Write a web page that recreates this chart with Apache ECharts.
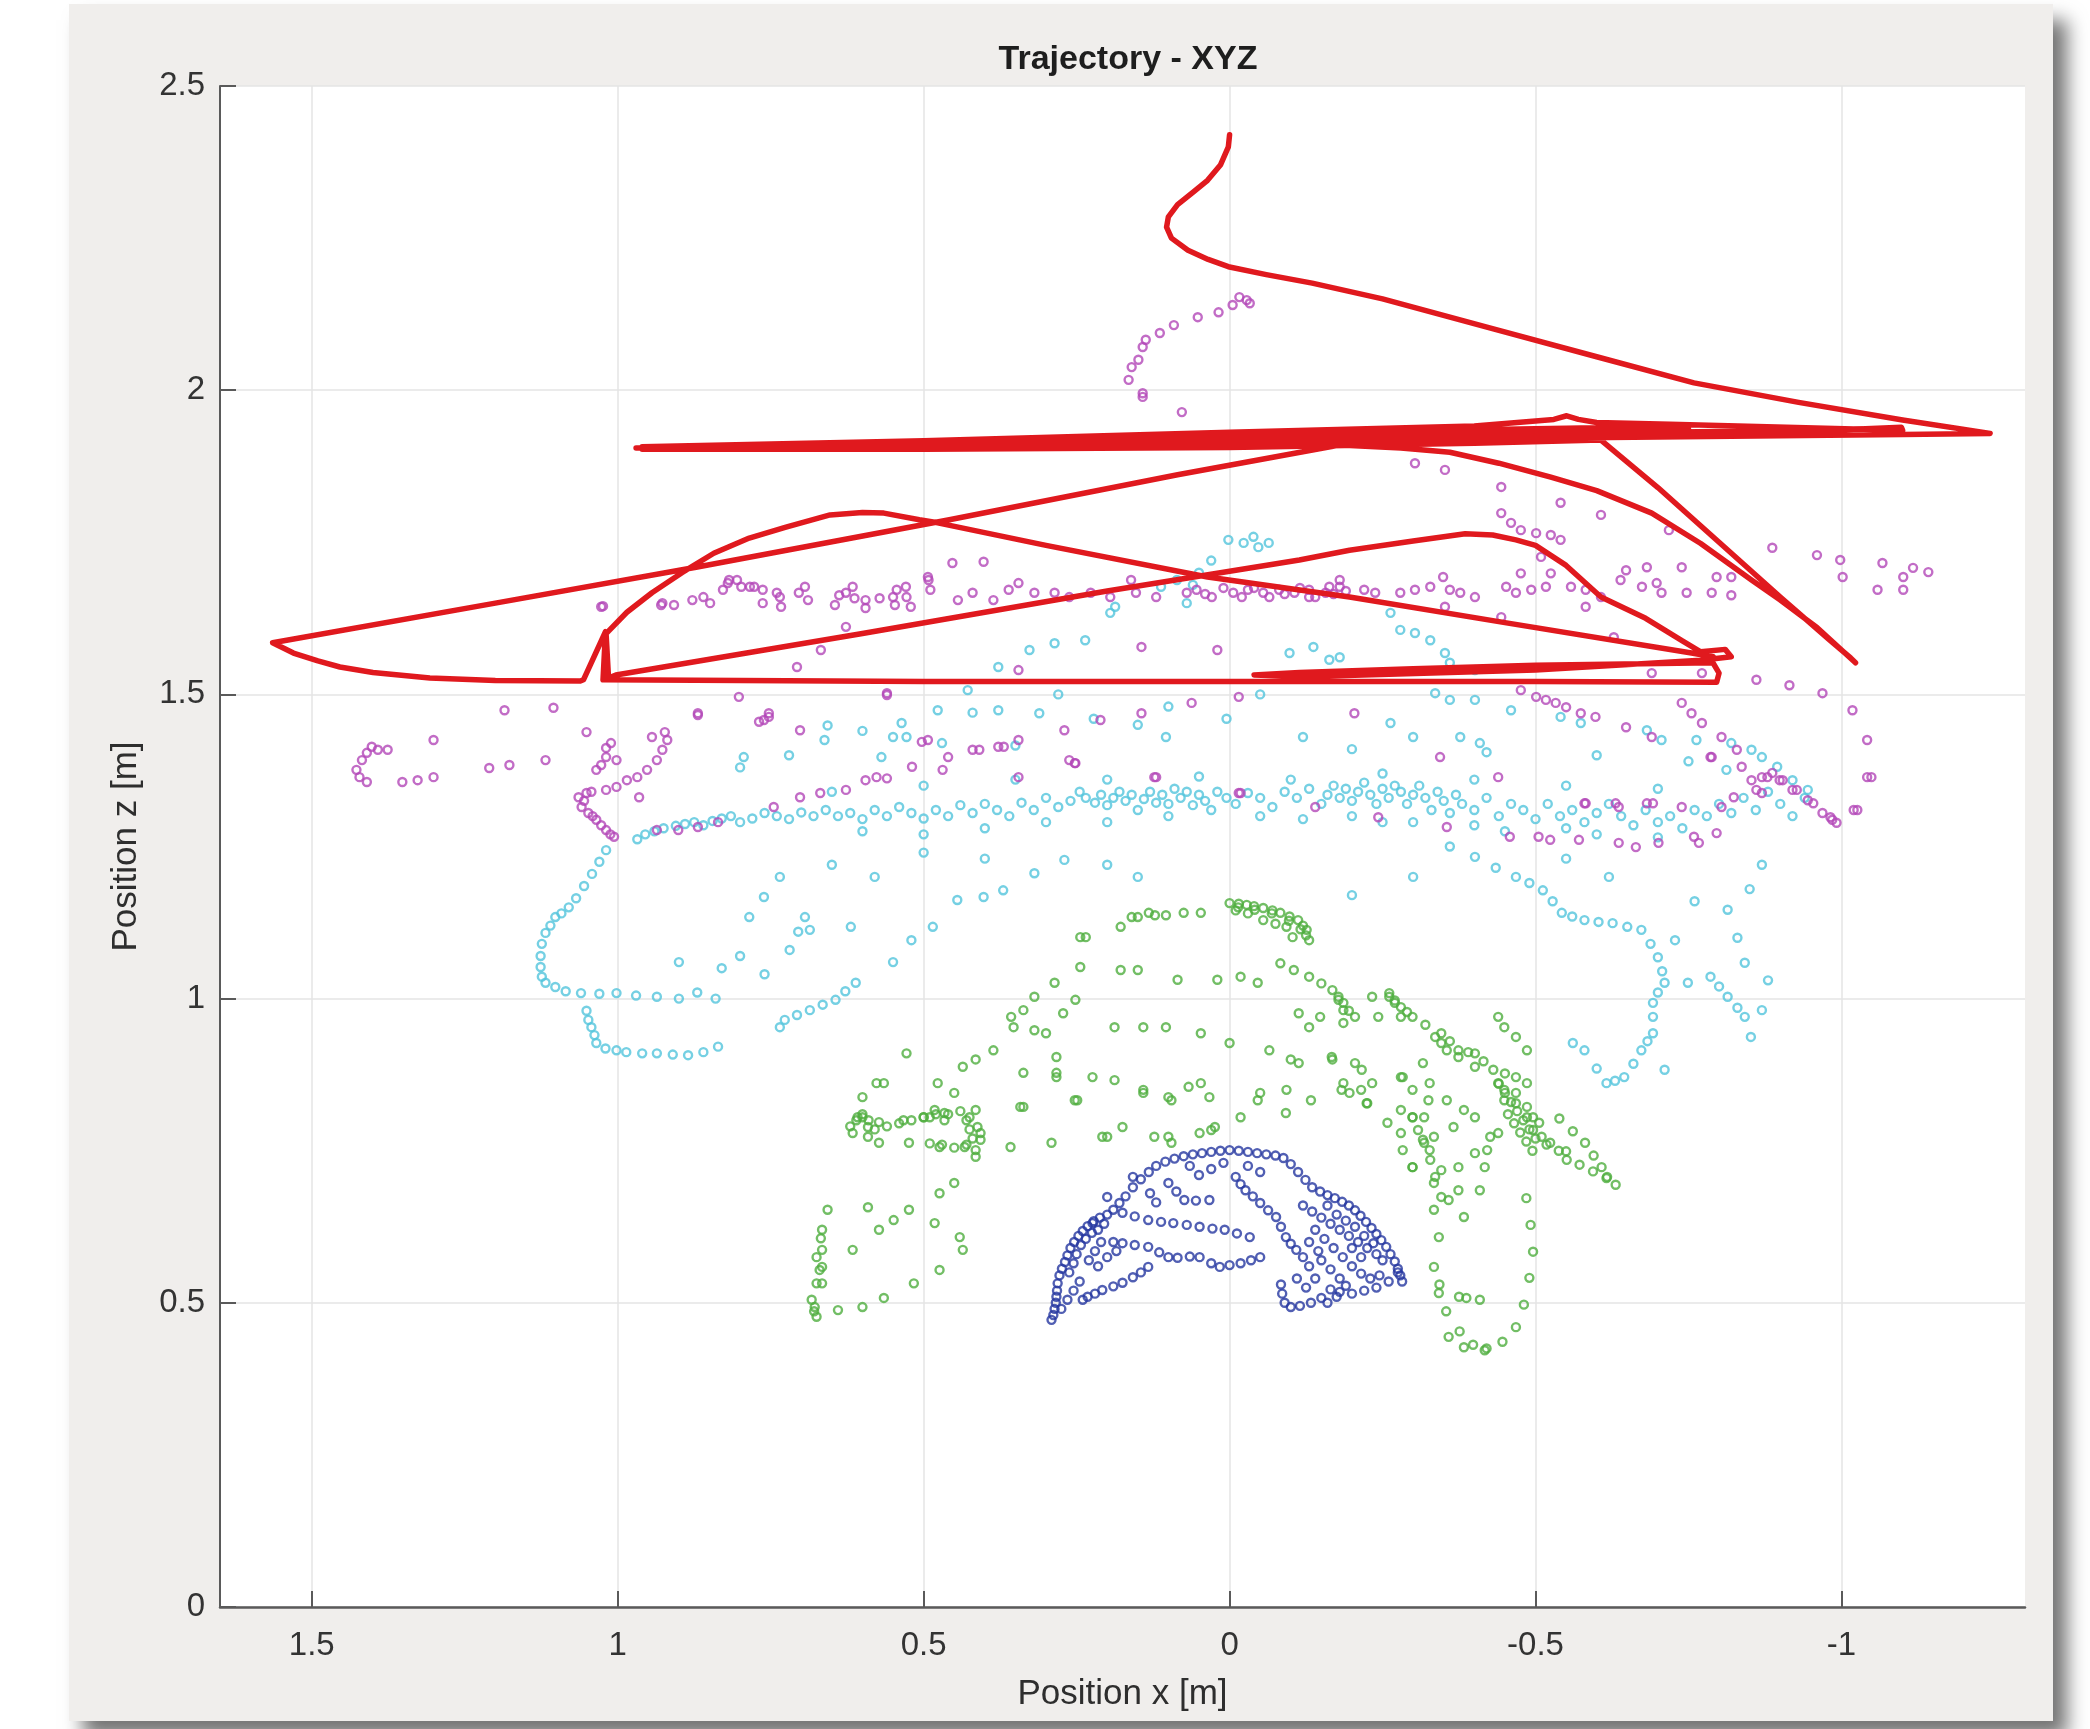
<!DOCTYPE html>
<html><head><meta charset="utf-8">
<script src="https://cdn.jsdelivr.net/npm/echarts@6/dist/echarts.min.js"></script>
<style>html,body{margin:0;padding:0;background:#fff}#c{width:2090px;height:1729px}</style>
</head><body><div id="c"></div>
<script>
const titleText = 'Trajectory - XYZ';
const xName = 'Position x [m]';
const yName = 'Position z [m]';
const xTicks = [1.5, 1, 0.5, 0, -0.5, -1];
const yTicks = [0, 0.5, 1, 1.5, 2, 2.5];
const xRange = [-1.3, 1.65];
const yRange = [0, 2.5];

// red trajectory, pieces in drawing order
const redStart = [[0.0,2.42],[0.002,2.40],[0.015,2.37],[0.036,2.345],[0.06,2.325],[0.085,2.305],[0.1,2.285],[0.103,2.268],[0.095,2.25],[0.068,2.23],[0.035,2.215],[0.002,2.203],[-0.06,2.19],[-0.135,2.176],[-0.25,2.15],[-0.419,2.104],[-0.6,2.055],[-0.759,2.012],[-0.93,1.98],[-1.1,1.951],[-1.243,1.929]];
const redBand = [[-1.1,1.927],[-0.5,1.921],[0.0,1.915],[0.5,1.909],[0.97,1.905],
  [0.5,1.912],[0.0,1.92],[-0.5,1.928],[-1.0,1.935],[-1.098,1.939],[-1.1,1.934],
  [-0.72,1.944],[-0.6,1.947],[-0.57,1.952],[-0.551,1.958],[-0.53,1.952],[-0.4,1.941],[0.0,1.931],[0.5,1.917],[0.96,1.907],
  [0.5,1.914],[0.0,1.926],[-0.4,1.935],[-0.7,1.94],[-0.75,1.936],[-0.4,1.928],[0.0,1.918],[0.5,1.907],[0.96,1.903],
  [0.5,1.903],[0.0,1.906],[-0.4,1.913],[-0.607,1.918]];
const redRightV = [[-0.7,1.84],[-0.8,1.75],[-0.9,1.66],[-0.98,1.59],[-1.015,1.56],[-1.023,1.552],
  [-0.96,1.61],[-0.9,1.655],[-0.853,1.688],[-0.77,1.748],[-0.69,1.798],[-0.6,1.835],[-0.525,1.857],[-0.44,1.88],[-0.36,1.898],[-0.28,1.905],[-0.18,1.91]];
const redLeftWedge = [[0.085,1.861],[0.458,1.787],[0.872,1.709],[1.2,1.65],[1.564,1.585],
  [1.53,1.568],[1.49,1.555],[1.454,1.545],[1.4,1.536],[1.307,1.527],[1.2,1.523],[1.061,1.522],
  [1.056,1.524],[1.02,1.603],[1.024,1.524],
  [0.5,1.521],[0.0,1.521],[-0.5,1.521],[-0.796,1.52],[-0.8,1.535],[-0.79,1.552]];
const redLower = [[-0.5,1.548],[-0.3,1.542],[-0.114,1.536],[-0.04,1.532],[-0.12,1.529],[-0.5,1.54],[-0.77,1.556],
  [-0.82,1.562],[-0.81,1.574],[-0.77,1.57],
  [-0.74,1.588],[-0.68,1.625],[-0.607,1.66],[-0.55,1.712],[-0.5,1.745],[-0.468,1.754],[-0.43,1.762],[-0.385,1.764],[-0.3,1.752],[-0.196,1.737],[-0.114,1.721],[0.2,1.67],[0.6,1.6],[1.003,1.532],[1.015,1.527],
  [1.019,1.6],[0.985,1.635],[0.944,1.667],[0.895,1.70],[0.843,1.732],[0.785,1.757],[0.725,1.775],[0.653,1.795],[0.6,1.799],[0.565,1.798],[0.507,1.787],[0.477,1.782],[0.3,1.745],[0.036,1.693],[-0.196,1.66],[-0.45,1.618],[-0.755,1.568],[-0.79,1.562]];

const magentaPts = [
[0.142,1.989],[0.142,1.995],[0.165,2.017],[0.16,2.038],[0.149,2.05],[0.142,2.071],[0.137,2.083],[0.114,2.094],[0.091,2.107],[0.052,2.12],[0.018,2.128],[-0.005,2.14],[-0.016,2.153],[-0.028,2.148],[-0.033,2.143],[0.078,1.964],
[1.027,1.644],[1.024,1.645],[0.929,1.647],[0.927,1.65],[0.908,1.647],[0.878,1.655],[0.86,1.66],[0.849,1.65],[0.828,1.672],[0.82,1.683],[0.818,1.688],[0.805,1.688],[0.798,1.677],[0.784,1.677],[0.777,1.677],[0.763,1.672],[0.763,1.65],[0.74,1.667],[0.735,1.66],[0.733,1.644],[0.704,1.667],[0.694,1.677],[0.689,1.655],[0.645,1.647],[0.638,1.663],[0.627,1.667],[0.616,1.677],[0.613,1.658],[0.595,1.642],[0.595,1.655],[0.572,1.658],[0.55,1.66],[0.547,1.647],[0.544,1.672],[0.529,1.677],[0.528,1.66],[0.521,1.644],[0.493,1.693],[0.492,1.688],[0.489,1.672],[0.453,1.716],[0.444,1.655],[0.42,1.667],[0.402,1.718],[0.386,1.655],[0.361,1.672],[0.345,1.683],[0.319,1.667],[0.286,1.667],[0.262,1.66],[0.227,1.667],[0.195,1.66],[0.161,1.688],[0.153,1.667],[0.12,1.66],[0.07,1.667],[0.054,1.672],[0.029,1.66],[-0.006,1.667],[-0.03,1.672],[-0.055,1.667],[-0.081,1.672],[-0.106,1.667],[-0.13,1.672],[-0.157,1.667],[-0.18,1.677],
[-0.02,1.66],[-0.04,1.675],[-0.065,1.66],[-0.09,1.665],[-0.115,1.675],[-0.14,1.66],[-0.17,1.665],[-0.19,1.67],[0.01,1.675],[0.04,1.665],
[-0.13,1.66],[-0.163,1.677],[-0.18,1.688],[-0.22,1.672],[-0.238,1.667],[-0.279,1.667],[-0.303,1.672],[-0.328,1.677],[-0.349,1.693],[-0.36,1.672],[-0.377,1.667],[-0.401,1.66],[-0.452,1.677],[-0.468,1.667],[-0.493,1.672],[-0.517,1.677],[-0.476,1.699],[-0.525,1.699],[-0.558,1.677],[-0.582,1.672],[-0.607,1.66],[-0.639,1.688],[-0.674,1.677],[-0.698,1.683],[-0.706,1.667],[-0.747,1.667],[-0.788,1.667],[-0.82,1.663],[-0.796,1.693],[-0.82,1.693],[-0.887,1.741],[-0.96,1.729],[-0.998,1.721],[-1.002,1.693],[-1.067,1.716],[-1.101,1.693],[-1.117,1.708],[-1.142,1.701],[-1.059,1.672],[-1.101,1.672],[-0.648,1.704],[-0.682,1.709],[-0.739,1.709],[-0.582,1.644],[-0.352,1.644],[-0.444,1.627],[-0.628,1.594],
[-0.303,1.88],[-0.352,1.869],[-0.444,1.841],[-0.444,1.798],[-0.46,1.782],[-0.476,1.77],[-0.501,1.765],[-0.525,1.762],[-0.541,1.754],[-0.541,1.815],[-0.607,1.795],[-0.718,1.77],[-0.509,1.726],
[0.627,1.611],[0.668,1.573],[0.707,1.545],[0.144,1.578],[0.02,1.573],[0.802,1.496],[0.56,1.502],[-0.015,1.496],[0.345,1.54],[0.144,1.469],[0.211,1.458],[0.062,1.486],[0.869,1.469],[0.753,1.469],[0.761,1.458],[0.702,1.441],[0.493,1.425],[0.46,1.397],[0.42,1.409],[0.378,1.414],[0.345,1.425],[0.262,1.392],[0.12,1.364],[-0.015,1.338],[0.577,1.364],[0.595,1.359],[0.627,1.343],[0.669,1.338],[0.702,1.331],[0.745,1.315],
[-0.476,1.507],[-0.501,1.496],[-0.517,1.491],[-0.533,1.486],[-0.55,1.479],[-0.574,1.469],[-0.598,1.463],[-0.648,1.446],[-0.69,1.43],[-0.739,1.486],[-0.755,1.469],[-0.772,1.453],[-0.788,1.397],[-0.804,1.43],[-0.829,1.409],[-0.837,1.381],[-0.853,1.359],[-0.861,1.343],[-0.87,1.364],[-0.887,1.371],[-0.904,1.359],[-0.92,1.343],[-0.945,1.326],[-0.969,1.305],[-0.985,1.294],[-1.018,1.474],[-1.042,1.425],[-1.042,1.364],[-1.026,1.31],[-0.861,1.524],[-0.915,1.515],[-0.969,1.502],[-0.69,1.535],[-0.772,1.535],[-0.204,1.469],[-0.344,1.397],[-0.582,1.321],[-0.631,1.321],[-0.682,1.321],[-0.804,1.315],
[-0.879,1.364],[-0.899,1.359],[-0.927,1.343],[-0.954,1.321],[-0.982,1.298],[-0.992,1.289],[-1.02,1.31],[-1.049,1.364],[-0.87,1.338],[-0.824,1.331],[-0.796,1.272],[-0.759,1.266],[-0.767,1.256],[-0.701,1.256],[-0.664,1.249],[-0.636,1.256],[-0.739,1.315],[-0.692,1.321],[-0.636,1.315],[-0.58,1.321],[-0.458,1.266],[-0.505,1.266],[-0.524,1.261],[-0.571,1.261],[-0.355,1.282],[-0.243,1.298],[-0.14,1.315],[-0.018,1.338],[0.123,1.364],[0.253,1.387],[-0.439,1.364],[-0.786,1.397],
[1.402,1.414],[1.41,1.404],[1.418,1.392],[1.427,1.376],[1.422,1.364],[1.41,1.356],[1.392,1.409],[1.376,1.409],[1.352,1.356],[1.327,1.359],[1.301,1.364],[1.301,1.425],[1.21,1.379],[1.177,1.384],[1.185,1.474],[1.105,1.478],[1.118,1.392],[1.051,1.438],[1.019,1.412],[1.002,1.392],[1.027,1.384],[1.035,1.376],
[1.064,1.331],[1.059,1.315],[1.048,1.305],[1.035,1.294],[1.019,1.277],[1.006,1.266],[1.051,1.338],[1.043,1.34],[1.027,1.285],[1.012,1.27],[1.055,1.325],[1.041,1.3],
[1.019,1.343],[1.002,1.348],[0.985,1.359],[0.968,1.364],[0.952,1.376],[0.936,1.392],[0.927,1.409],[0.919,1.425],[0.923,1.438],[0.944,1.43],[1.019,1.397],[1.011,1.42],[0.965,1.331],[0.936,1.277],[0.901,1.277],[0.869,1.282],[0.836,1.29],
[0.869,1.466],[0.769,1.455],[0.753,1.463],[0.56,1.499],[0.503,1.422],[0.409,1.409],[0.369,1.414],[0.27,1.441],[0.252,1.387],[0.345,1.364],[0.469,1.376],[0.519,1.381],[0.56,1.362]
];

const cyanPts = [
[0.968,1.262],[0.955,1.27],[0.94,1.275],[0.925,1.28],[0.905,1.284],[0.89,1.287],[0.875,1.29],[0.86,1.285],[0.845,1.292],[0.83,1.296],[0.815,1.3],[0.8,1.29],[0.78,1.296],[0.76,1.305],[0.74,1.3],[0.72,1.295],[0.7,1.306],[0.68,1.3],[0.66,1.31],[0.64,1.3],[0.62,1.305],[0.6,1.295],[0.58,1.31],[0.56,1.3],[0.54,1.315],[0.52,1.305],[0.5,1.296],[0.48,1.31],[0.46,1.3],[0.44,1.318],[0.42,1.305],[0.4,1.32],[0.38,1.31],[0.36,1.3],[0.34,1.322],[0.32,1.31],[0.3,1.33],[0.28,1.315],[0.26,1.325],[0.245,1.34],[0.235,1.33],[0.22,1.322],[0.21,1.335],[0.2,1.318],[0.19,1.33],[0.18,1.34],[0.17,1.325],[0.16,1.335],[0.15,1.31],[0.14,1.328],[0.13,1.34],[0.12,1.322],[0.11,1.335],[0.1,1.32],[0.09,1.345],[0.08,1.33],[0.07,1.34],[0.06,1.318],[0.05,1.335],[0.04,1.325],[0.03,1.31],[0.02,1.34],[0.005,1.33],[-0.01,1.32],[-0.03,1.338],[-0.05,1.33],[-0.07,1.315],[-0.09,1.34],[-0.11,1.33],[-0.13,1.345],[-0.15,1.32],[-0.16,1.335],[-0.17,1.35],[-0.18,1.33],[-0.19,1.345],[-0.2,1.325],[-0.21,1.34],[-0.22,1.355],[-0.23,1.335],[-0.24,1.32],[-0.25,1.345],[-0.26,1.33],[-0.27,1.35],[-0.28,1.34],[-0.29,1.32],[-0.3,1.335],[-0.31,1.35],[-0.32,1.33],[-0.33,1.31],[-0.34,1.34],[-0.35,1.325],[-0.36,1.305],[-0.37,1.335],[-0.38,1.32],[-0.4,1.31],[-0.42,1.33],[-0.44,1.3],[-0.46,1.32],[-0.48,1.31],[-0.5,1.295],[-0.52,1.32],[-0.54,1.3],[-0.56,1.31],[-0.58,1.29],[-0.6,1.305],[-0.62,1.32],[-0.64,1.3],[-0.66,1.285],[-0.68,1.31],[-0.7,1.29],[-0.72,1.3],[-0.74,1.28],[-0.76,1.31],[-0.78,1.3],[-0.8,1.32],[-0.82,1.305],[-0.84,1.33],[-0.86,1.31],[-0.88,1.34],[-0.9,1.32],[-0.92,1.3],[-0.94,1.33],
[0.5,1.27],[0.4,1.28],[0.3,1.29],[0.1,1.3],[-0.05,1.3],[-0.2,1.3],[-0.3,1.29],[-0.45,1.275],[-0.6,1.27],[-0.7,1.265],[0.2,1.29],[0.6,1.275],[-0.4,1.285],[-0.55,1.28],[-0.25,1.29],[-0.12,1.295],
[0.35,1.36],[0.2,1.36],[0.05,1.365],[-0.1,1.36],[-0.25,1.37],[-0.4,1.36],[-0.55,1.35],[-0.7,1.345],[0.5,1.35],[0.65,1.34],
[0.657,1.449],[0.6,1.44],[0.55,1.43],[0.47,1.42],[0.35,1.416],[0.222,1.46],[0.15,1.45],[0.005,1.46],[-0.12,1.43],[-0.2,1.41],[-0.3,1.43],[-0.42,1.405],[-0.6,1.4],[-0.75,1.39],[0.8,1.38],[0.72,1.4],[0.1,1.48],[-0.05,1.5],[0.28,1.5],[0.42,1.47],
[1.019,1.244],[1.03,1.225],[1.042,1.205],[1.055,1.185],[1.068,1.165],[1.08,1.15],[1.092,1.14],[1.102,1.134],[1.11,1.12],[1.118,1.108],[1.124,1.09],[1.126,1.07],[1.126,1.052],[1.124,1.036],[1.118,1.026],[1.102,1.019],[1.085,1.012],[1.06,1.009],[1.03,1.008],[1.002,1.009],[0.97,1.005],[0.936,1.003],[0.9,1.0],[0.87,1.01],[0.84,1.0],
[1.051,0.98],[1.048,0.965],[1.043,0.953],[1.038,0.94],[1.035,0.927],[1.02,0.918],[1.002,0.915],[0.986,0.912],[0.96,0.91],[0.936,0.91],[0.91,0.908],[0.885,0.907],[0.86,0.912],[0.836,0.921],
[0.735,1.2],[0.761,1.167],[0.785,1.134],[0.694,1.134],[0.705,1.11],[0.719,1.08],[0.686,1.113],[0.611,1.026],[0.628,1.012],[0.644,0.998],[0.665,0.99],[0.686,0.981],[0.707,0.973],[0.727,0.965],[0.735,0.953],[0.619,1.118],[0.52,1.096],[0.485,1.118],[0.445,1.162],[0.402,1.167],[0.37,1.178],[0.27,1.228],[0.319,1.206],[0.83,1.05],[0.8,1.07],[0.76,1.04],[0.9,1.06],[0.55,1.06],[0.58,1.2],[0.65,1.22],[0.5,1.24],[0.4,1.23],[0.2,1.22],[0.15,1.2],
[-0.401,1.233],[-0.435,1.215],[-0.468,1.2],[-0.49,1.19],[-0.512,1.178],[-0.528,1.16],[-0.543,1.141],[-0.56,1.135],[-0.58,1.129],[-0.603,1.126],[-0.626,1.124],[-0.65,1.118],[-0.673,1.113],[-0.688,1.09],[-0.70,1.068],[-0.707,1.045],[-0.711,1.026],[-0.70,1.01],[-0.692,0.993],[-0.692,0.97],[-0.692,0.943],[-0.683,0.93],[-0.673,0.915],[-0.66,0.893],[-0.645,0.871],[-0.63,0.865],[-0.616,0.861],[-0.6,0.885],[-0.58,0.915],[-0.561,0.927],[-0.711,0.883],[-0.749,1.026],[-0.786,1.036],[-0.8,1.02],[-0.814,1.003],[-0.83,0.985],[-0.842,0.97],[-0.852,0.937],[-0.87,0.981],[-0.814,1.146],[-0.842,1.059],[-0.728,1.096],[-0.83,1.1],[-0.85,1.18],[-0.76,1.16],[-0.62,1.2],[-0.36,1.25],[-0.3,1.2],[-0.2,1.17],[-0.55,1.23],[-0.87,1.22],[-0.88,1.03],
[0.378,1.545],[0.327,1.573],[0.286,1.584],[0.236,1.589],[0.195,1.634],[0.187,1.644],[0.112,1.677],[0.086,1.688],[0.07,1.65],[0.002,1.754],[-0.023,1.749],[-0.047,1.742],[-0.064,1.749],[-0.039,1.759],[-0.098,1.568],[-0.137,1.578],[-0.163,1.557],[-0.18,1.561],[0.428,1.507],[0.477,1.474],[0.378,1.474],[0.311,1.469],[0.536,1.453],[0.569,1.397],[0.528,1.43],[0.662,1.425],[0.794,1.397],[0.104,1.43],[-0.263,1.634],[-0.279,1.606],[-0.303,1.601],[-0.328,1.589],[-0.352,1.568],[-0.36,1.552],[-0.401,1.54],[-0.336,1.502],[-0.36,1.491],[-0.401,1.491],[-0.46,1.474],[-0.263,1.453],[-0.377,1.43],[-0.409,1.42],[-0.541,1.463],[-0.574,1.453],[-0.682,1.441],[-0.706,1.425],[-0.763,1.425],[-0.82,1.42],[-0.853,1.409],[-0.87,1.397],[-0.895,1.381],[-0.92,1.359],[-0.945,1.343],[-0.812,1.376],[0.05,1.7],[0.03,1.72],[0.06,1.68]
];

const greenPts = [
[0.675,0.477],[0.683,0.505],[0.675,0.532],[0.666,0.559],[0.666,0.587],[0.666,0.62],[0.657,0.653],[0.64,0.488],[0.6,0.493],[0.565,0.508],[0.616,0.587],[0.591,0.657],[0.549,0.636],[0.524,0.653],[0.573,0.62],[0.679,0.486],[0.668,0.606],
[0.6,0.838],[0.608,0.805],[0.616,0.779],[0.591,0.773],[0.573,0.797],[0.533,0.8],[0.49,0.805],[0.466,0.812],[0.45,0.845],[0.415,0.817],[0.407,0.779],[0.433,0.756],[0.474,0.756],[0.524,0.763],[0.573,0.763],
[0.62,0.79],[0.61,0.8],[0.6,0.81],[0.59,0.8],[0.58,0.785],[0.56,0.79],[0.54,0.795],[0.52,0.8],[0.5,0.805],[0.48,0.81],[0.46,0.81],[0.44,0.815],[0.43,0.8],[0.425,0.785],[0.42,0.77],[0.43,0.76],[0.45,0.755],[0.47,0.76],[0.49,0.762],
[0.415,0.74],[0.45,0.697],[0.474,0.68],[0.482,0.631],[0.441,0.608],[0.436,0.587],[0.474,0.554],[0.516,0.532],
[0.342,0.822],[0.283,0.878],[0.224,0.871],[0.249,0.833],[0.141,0.85],[0.1,0.838],[0.067,0.855],[0.033,0.838],[0.2,0.773],[0.175,0.789],[0.1,0.773],[0.049,0.779],[0.024,0.789],[0.291,0.763],[0.358,0.756],[0.283,0.904],[0.415,0.9],[0.565,0.861],
[-0.1,0.9],[-0.167,0.904],[-0.216,0.883],[-0.283,0.871],[-0.316,0.894],[-0.183,0.85],[-0.225,0.828],[-0.133,0.833],[-0.05,0.845],[-0.092,0.812],[-0.258,0.796],[-0.299,0.805],[-0.325,0.833],[-0.316,0.768],[-0.283,0.751],[-0.299,0.723],[-0.334,0.697],[-0.358,0.669],[-0.383,0.641],[-0.409,0.685],[-0.417,0.723],[-0.334,0.653],[-0.342,0.608],[-0.334,0.559],[-0.342,0.516],[-0.375,0.51],[-0.409,0.505],
[-0.343,0.53],[-0.354,0.486],[-0.376,0.453],[-0.398,0.431],[-0.42,0.425],[-0.446,0.436],[-0.468,0.46],[-0.481,0.497],[-0.49,0.541],[-0.496,0.584],[-0.492,0.628],[-0.485,0.672],[-0.387,0.508],[-0.358,0.444],[-0.383,0.427],[-0.417,0.422],
[0.0,1.157],[-0.015,1.156],[-0.028,1.154],[-0.04,1.152],[-0.055,1.149],[-0.07,1.145],[-0.083,1.141],[-0.098,1.135],[-0.112,1.129],[-0.12,1.12],[-0.126,1.113],[-0.13,1.096],[-0.055,1.129],[-0.075,1.123],[-0.093,1.118],[-0.103,1.101],[-0.03,1.14],[-0.01,1.145],
[-0.014,1.15],[-0.041,1.146],[-0.069,1.14],[-0.097,1.128],[-0.116,1.114],[-0.125,1.104],
[0.16,1.134],[0.132,1.141],[0.104,1.137],[0.075,1.141],[0.047,1.141],[0.178,1.118],[0.235,1.101],[0.244,1.101],[0.15,1.134],[0.122,1.137],
[-0.083,1.058],[-0.105,1.047],[-0.13,1.036],[-0.15,1.025],[-0.168,1.014],[-0.178,1.003],[-0.186,0.993],[-0.195,0.98],[-0.205,0.97],[-0.261,1.009],[-0.27,0.997],[-0.28,0.986],[-0.29,0.978],[-0.299,0.97],[-0.32,0.957],[-0.346,0.943],[-0.36,0.93],[-0.374,0.915],[-0.39,0.912],[-0.401,0.91],[-0.415,0.897],[-0.431,0.883],[-0.45,0.877],[-0.468,0.871],[-0.486,0.861],
[-0.178,0.998],[-0.186,0.981],[-0.261,1.003],[-0.27,0.993],[-0.28,0.97],[-0.336,0.937],[-0.346,0.927],[-0.355,0.915],[-0.374,0.904],[-0.401,0.888],[-0.439,0.861],[-0.449,0.833],[-0.468,0.845],[-0.486,0.822],[-0.496,0.805],[-0.506,0.796],
[-0.299,0.805],[-0.308,0.784],[-0.318,0.763],[-0.328,0.735],[-0.346,0.718],[-0.196,0.845],[-0.215,0.85],
[-0.449,0.85],[-0.468,0.828],[-0.486,0.805],[-0.496,0.784],[-0.51,0.773],[-0.524,0.763],[-0.538,0.75],[-0.551,0.735],[-0.581,0.763],[-0.595,0.742],[-0.608,0.723],[-0.617,0.707],[-0.518,0.76],[-0.55,0.749],[-0.572,0.727],[-0.594,0.716],[-0.616,0.705],[-0.631,0.694],[-0.539,0.803],[-0.561,0.782],
[-0.44,0.86],[-0.45,0.845],[-0.46,0.83],[-0.47,0.815],[-0.48,0.8],[-0.49,0.785],[-0.5,0.77],[-0.455,0.81],[-0.465,0.795],[-0.475,0.78],[-0.485,0.765],[-0.495,0.75],
[-0.383,0.817],[-0.366,0.789],[-0.334,0.773],[-0.401,0.746],[-0.426,0.773],
[-0.233,1.003],[-0.243,0.97],[-0.186,0.96],[-0.148,0.97],[-0.113,0.976],[-0.13,0.953],[-0.449,0.953],[-0.468,0.937],[-0.486,0.915],[-0.439,0.97],
[-0.186,0.861],[-0.233,0.861],[-0.28,0.871],[-0.299,0.85],[-0.327,0.861],[-0.205,0.894],[-0.168,0.9],[-0.224,0.828],[-0.28,0.817],[-0.318,0.805],[-0.28,0.779],[-0.327,0.751],[-0.299,0.723],[-0.336,0.707],[-0.374,0.723],[-0.421,0.751],[-0.439,0.779],[-0.401,0.805],[-0.355,0.833],[-0.374,0.685],[-0.346,0.674],
[0.357,0.97],[0.337,0.981],[0.319,1.003],[0.3,0.943],[0.272,0.976],[0.244,1.052],[0.178,1.047],[0.15,1.047],[0.085,1.031],[0.02,1.031],[-0.018,1.036],[-0.046,1.026],[0.188,0.953],[0.141,0.953],[0.104,0.953],[0.047,0.943],[0.0,0.927],[-0.065,0.915],[-0.113,0.894],[-0.093,0.85],[-0.046,0.833],[-0.018,0.805],[0.047,0.861],[0.095,0.833],[0.141,0.845],[0.253,0.833],[0.337,0.822],[0.208,0.773],[0.123,0.773],[0.095,0.763],[0.03,0.784],[0.283,0.871],[0.188,0.866],
[0.353,0.953],[0.319,0.948],[0.286,1.026],[0.252,0.998],[0.386,0.915],[0.436,0.888],[0.528,0.91],[0.577,0.861],[0.477,0.861],[0.337,0.878],
[0.6,0.805],[0.591,0.789],[0.5,0.805],[0.482,0.817],[0.466,0.8],[0.425,0.805],[0.412,0.789],[0.407,0.768],[0.415,0.751],[0.675,0.575],[0.67,0.554],[0.666,0.532],[0.678,0.493]
];

const bluePts = [
[0.291,0.472],[0.288,0.48],[0.286,0.49],[0.284,0.50],[0.283,0.51],[0.282,0.52],[0.281,0.532],[0.278,0.545],[0.274,0.556],[0.269,0.567],[0.265,0.578],[0.26,0.59],[0.254,0.60],[0.247,0.61],[0.24,0.618],[0.232,0.626],[0.222,0.634],[0.212,0.64],[0.2,0.645],[0.19,0.653],[0.262,0.55],[0.255,0.565],[0.25,0.58],[0.243,0.595],[0.235,0.605],[0.225,0.615],[0.215,0.62],[0.205,0.63],
[0.18,0.664],[0.17,0.675],[0.158,0.69],[0.145,0.703],[0.132,0.715],[0.12,0.725],[0.105,0.732],[0.09,0.737],[0.075,0.741],[0.06,0.744],[0.045,0.746],[0.03,0.748],[0.015,0.75],[0.0,0.751],[-0.015,0.75],[-0.03,0.748],[-0.045,0.746],[-0.06,0.744],[-0.075,0.742],[-0.088,0.738],
[-0.1,0.728],[-0.112,0.715],[-0.124,0.702],[-0.135,0.69],[-0.148,0.683],[-0.16,0.677],[-0.172,0.672],[-0.184,0.666],[-0.195,0.66],[-0.205,0.652],[-0.214,0.643],[-0.223,0.633],[-0.232,0.623],[-0.24,0.613],[-0.248,0.603],[-0.256,0.592],[-0.263,0.58],[-0.27,0.568],[-0.275,0.556],[-0.279,0.545],[-0.282,0.535],
[-0.275,0.55],[-0.26,0.535],[-0.24,0.525],[-0.22,0.52],[-0.2,0.515],[-0.18,0.518],[-0.165,0.522],[-0.15,0.508],[-0.133,0.5],[-0.115,0.495],[-0.1,0.493],[-0.09,0.5],[-0.086,0.515],[-0.084,0.53],
[0.24,0.505],[0.232,0.51],[0.22,0.515],[0.208,0.521],[0.19,0.527],[0.175,0.533],[0.158,0.542],[0.145,0.55],[0.133,0.559],
[0.19,0.6],[0.175,0.598],[0.155,0.595],[0.133,0.592],[0.115,0.583],[0.1,0.575],[0.085,0.574],[0.065,0.576],[0.049,0.575],[0.03,0.565],[0.016,0.559],[0.0,0.562],[-0.018,0.565],[-0.035,0.57],[-0.05,0.575],
[0.224,0.631],[0.175,0.648],[0.155,0.642],[0.133,0.636],[0.112,0.633],[0.092,0.631],[0.07,0.628],[0.049,0.625],[0.028,0.622],[0.008,0.62],[-0.012,0.614],[-0.033,0.608],
[-0.01,0.707],[-0.018,0.695],[-0.026,0.685],[-0.038,0.675],[-0.05,0.664],[-0.063,0.652],[-0.076,0.641],[-0.084,0.625],[-0.092,0.608],[-0.1,0.597],[-0.109,0.587],[-0.12,0.575],[-0.13,0.56],
[-0.12,0.66],[-0.135,0.65],[-0.15,0.64],[-0.165,0.63],[-0.18,0.62],[-0.195,0.61],[-0.21,0.6],[-0.225,0.59],[-0.24,0.58],[-0.25,0.57],[-0.14,0.62],[-0.155,0.605],[-0.17,0.59],[-0.185,0.575],[-0.2,0.56],[-0.215,0.548],[-0.23,0.54],[-0.245,0.545],[-0.15,0.57],[-0.165,0.555],[-0.18,0.54],[-0.19,0.528],[-0.13,0.6],[-0.145,0.585],[-0.2,0.59],[-0.215,0.575],[-0.16,0.66],[-0.175,0.645],[-0.19,0.635],[-0.205,0.625],[-0.22,0.61],[-0.235,0.598],[-0.14,0.54],[-0.125,0.525],[-0.11,0.54],[-0.175,0.51],[-0.16,0.5],
[0.1,0.697],[0.087,0.683],[0.074,0.669],[0.055,0.668],[0.033,0.669],[0.158,0.707],[0.2,0.674],[0.13,0.68],[0.12,0.665],[0.05,0.71],[0.03,0.72],[0.065,0.725],[0.01,0.73],[-0.03,0.725],[-0.05,0.715],
[0.23,0.57],[0.22,0.585],[0.21,0.6],[0.215,0.56],[0.2,0.575],[0.185,0.585],[0.245,0.535],[0.255,0.52],[0.265,0.505],[0.275,0.49]
];

const redPath = [...redStart, ...redBand, ...redRightV, ...redLeftWedge, ...redLower];

const FONT = '"Liberation Sans", Arial, Helvetica, sans-serif';
const axisCol = '#5a5a5a';
function scat(name, data, col) {
  return { name, type: 'scatter', data, symbol: 'circle', symbolSize: 8, z: 2,
    itemStyle: { color: 'rgba(0,0,0,0)', borderColor: col, borderWidth: 2.4 } };
}
const chart = echarts.init(document.getElementById('c'), null, { renderer: 'canvas' });
chart.setOption({
  animation: false,
  backgroundColor: '#ffffff',
  graphic: [{ type: 'rect', z: -100, silent: true,
    shape: { x: 69, y: 4, width: 1984, height: 1717 },
    style: { fill: '#f0eeec', shadowBlur: 18, shadowOffsetX: 14, shadowOffsetY: 16, shadowColor: 'rgba(0,0,0,0.55)' } }],
  title: { text: titleText, left: 1123, top: 38, textAlign: 'center',
    textStyle: { fontFamily: FONT, fontSize: 34, fontWeight: 'bold', color: '#1e1e1e' } },
  grid: { left: 220, right: 65, top: 86, bottom: 122, show: true, backgroundColor: '#ffffff', borderWidth: 0 },
  xAxis: { type: 'value', inverse: true, min: xRange[0], max: xRange[1],
    name: xName, nameLocation: 'middle', nameGap: 70,
    nameTextStyle: { fontFamily: FONT, fontSize: 35, color: '#2e2e2e' },
    axisLine: { show: true, onZero: false, lineStyle: { color: axisCol, width: 2.5 } },
    axisTick: { show: true, inside: true, length: 16, customValues: xTicks, lineStyle: { color: axisCol, width: 2 } },
    axisLabel: { customValues: xTicks, margin: 22, fontFamily: FONT, fontSize: 33, color: '#333' },
    splitLine: { show: true, lineStyle: { color: '#e4e4e4', width: 1.5 } } },
  yAxis: { type: 'value', min: yRange[0], max: yRange[1], interval: 0.5,
    name: yName, nameLocation: 'middle', nameGap: 76,
    nameTextStyle: { fontFamily: FONT, fontSize: 35, color: '#2e2e2e' },
    axisLine: { show: true, onZero: false, lineStyle: { color: axisCol, width: 2 } },
    axisTick: { show: true, inside: true, length: 16, lineStyle: { color: axisCol, width: 2 } },
    axisLabel: { margin: 15, fontFamily: FONT, fontSize: 33, color: '#333',
      formatter: v => (yTicks.includes(v) ? String(v) : '') },
    splitLine: { show: true, lineStyle: { color: '#e4e4e4', width: 1.5 } } },
  series: [
    scat('cyan', cyanPts, '#52c4dc'),
    scat('green', greenPts, '#4fae3f'),
    scat('magenta', magentaPts, '#b347b8'),
    scat('blue', bluePts, '#2537a0'),
    { name: 'trajectory', type: 'line', data: redPath, symbol: 'none', z: 5, smooth: false,
      lineStyle: { color: '#e0191e', width: 5.5, join: 'round', cap: 'round' } }
  ]
});
</script></body></html>
